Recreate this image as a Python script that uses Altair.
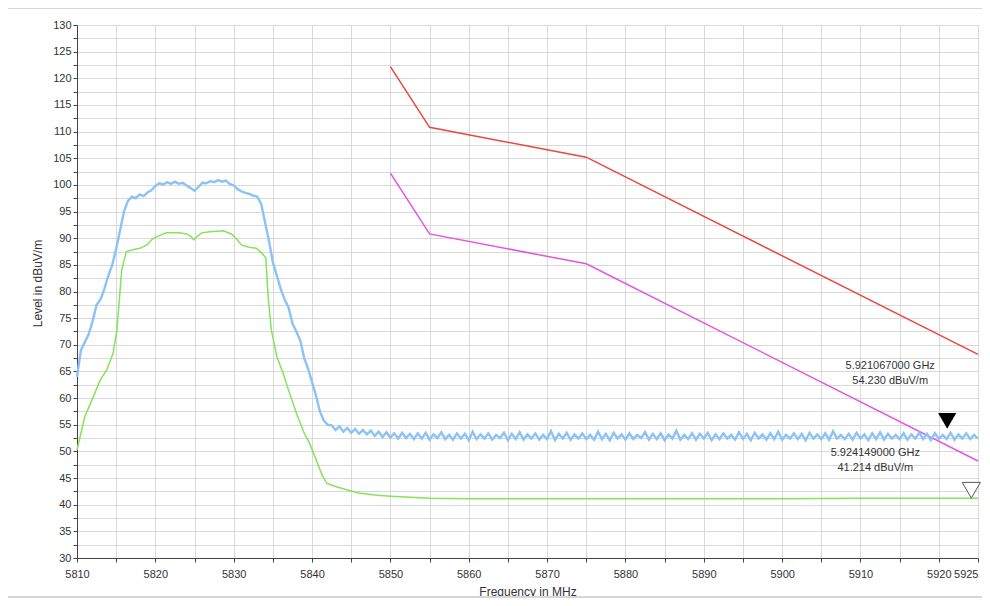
import altair as alt
import pandas as pd

# ---------------- data ----------------
# measured trace (light blue), uniform sweep starting at 5810 MHz, 0.5 MHz step
blue_start = 5810.0
blue_step = 0.5
blue_level = [
    64.0, 69.0, 70.5, 72.0, 74.5, 77.5, 78.5, 80.5, 83.0, 85.0,
    88.0, 91.5, 95.0, 97.0, 97.8, 97.5, 98.2, 97.9, 98.6, 99.0,
    99.8, 100.3, 100.1, 100.5, 100.2, 100.6, 100.2, 100.4, 99.9, 99.4,
    98.9, 99.6, 100.4, 100.3, 100.7, 100.5, 100.9, 100.6, 100.8, 100.2,
    99.9, 99.2, 98.8, 98.5, 98.3, 98.0, 97.8, 96.5, 93.0, 89.5,
    85.5, 83.0, 80.5, 78.5, 77.0, 74.0, 72.5, 70.8, 67.5, 65.5,
    63.0, 60.5, 57.5, 55.8, 55.0,
    54.9, 54.0, 54.7, 53.7, 54.4, 53.5, 54.2, 53.3, 54.0, 53.2,
    53.9, 52.9, 53.7, 52.7, 53.6, 52.6, 53.4, 52.4, 53.5, 52.5,
    53.3, 52.3, 53.4, 52.4, 53.5, 52.2, 53.2, 52.5, 53.6, 52.3,
    53.1, 52.2, 53.4, 52.4, 53.3, 52.1, 53.7, 52.3, 53.2, 52.4,
    53.4, 52.2, 53.1, 52.5, 53.5, 52.1, 53.3, 52.3, 53.6, 52.2,
    53.2, 52.4, 53.4, 52.2, 53.1, 52.3, 53.8, 52.1, 53.3, 52.4,
    53.5, 52.2, 53.2, 52.4, 53.4, 52.3, 53.1, 52.2, 53.7, 52.3,
    53.3, 52.1, 53.5, 52.4, 53.2, 52.2, 53.4, 52.3, 53.1, 52.5,
    53.6, 52.2, 53.3, 52.3, 53.4, 52.1, 53.2, 52.4, 53.9, 52.2,
    53.1, 52.3, 53.4, 52.2, 53.3, 52.4, 53.5, 52.1, 53.2, 52.3,
    53.4, 52.4, 53.1, 52.2, 53.6, 52.3, 53.3, 52.1, 53.5, 52.4,
    53.2, 52.2, 53.4, 52.3, 53.7, 52.2, 53.1, 52.4, 53.4, 52.3,
    53.3, 52.1, 53.5, 52.4, 53.2, 52.3, 53.4, 52.2, 53.8, 52.4,
    53.1, 52.3, 53.3, 52.2, 53.5, 52.4, 53.2, 52.1, 53.4, 52.3,
    53.6, 52.2, 53.3, 52.4, 53.1, 52.3, 53.4, 52.2, 53.2, 52.4,
    53.5, 52.3, 53.3, 52.1, 53.4, 52.4, 53.1, 52.3,
    53.5, 52.2, 53.2, 52.4, 53.4, 52.3, 53.1, 52.4,
]
blue_freq = [blue_start + blue_step * i for i in range(len(blue_level))]

# smoothed trace (green)
green_freq = [5810, 5810.4, 5811, 5812, 5813, 5813.8, 5814.6, 5815.1, 5815.7, 5816.3,
              5817, 5818, 5818.9, 5819.6, 5820.2, 5821.4, 5823, 5824, 5824.5, 5824.9,
              5825.4, 5825.9, 5827, 5828.7, 5829.7, 5830.4, 5831, 5832, 5832.9, 5833.6,
              5834.1, 5834.4, 5834.8, 5835.5, 5836.3, 5837, 5838, 5839, 5839.7, 5840.5,
              5841.3, 5841.9, 5843, 5844.4, 5846, 5848, 5850, 5855, 5860, 5870,
              5880, 5890, 5900, 5910, 5920, 5925]
green_level = [50.3, 52.8, 56.5, 60.0, 63.5, 65.3, 68.4, 72.8, 84.0, 87.5,
               87.8, 88.1, 88.7, 89.8, 90.3, 91.0, 91.0, 90.8, 90.4, 89.7,
               90.4, 91.0, 91.2, 91.4, 90.8, 89.8, 88.7, 88.3, 88.1, 87.2,
               86.3, 79.0, 72.8, 67.8, 64.7, 61.5, 57.2, 53.4, 51.5, 48.5,
               45.5, 44.0, 43.4, 42.8, 42.2, 41.8, 41.6, 41.2, 41.1, 41.1,
               41.1, 41.1, 41.1, 41.2, 41.2, 41.2]

# limit lines
limit_freq = [5850, 5855, 5875, 5925]
peak_limit = [122.2, 110.8, 105.2, 68.2]
avg_limit = [102.2, 90.8, 85.2, 48.2]

# markers
marker_freq = [5921.067, 5924.149]
marker_level = [54.230, 41.214]
marker_ghz = ["5.921067000 GHz", "5.924149000 GHz"]
marker_val = ["54.230 dBuV/m", "41.214 dBuV/m"]

# axis ticks
y_ticks = [30 + 2.5 * i for i in range(41)]
x_ticks = [5810 + 5 * i for i in range(24)]

# ---------------- chart ----------------
FONT = "Liberation Sans"
W, H = 901, 533

xscale = alt.Scale(domain=[5810, 5925], nice=False, zero=False)
yscale = alt.Scale(domain=[30, 130], nice=False, zero=False)

xaxis = alt.Axis(
    values=x_ticks, format="d", grid=True, gridColor="#d9d9d9", gridWidth=1,
    labelExpr="(datum.value % 10 == 0 || datum.value == 5925) ? datum.label : ''",
    labelAlign={"condition": {"test": "datum.value == 5925", "value": "right"}, "value": "center"},
    labelOverlap=False, labelFlush=False, labelPadding=6,
    title="Frequency in MHz", titleX=450.5, titleY=37, titleBaseline="alphabetic",
    titleAnchor="middle", titleAlign="center",
)
yaxis = alt.Axis(
    values=y_ticks, grid=True, gridColor="#d9d9d9", gridWidth=1,
    labelExpr="datum.value % 5 == 0 ? datum.label : ''",
    labelOverlap=False, labelPadding=2,
    title="Level in dBuV/m", titleX=-40, titleY=258, titleAngle=-90,
    titleAlign="center", titleBaseline="middle",
)

blue_df = pd.DataFrame({"f": blue_freq, "v": blue_level})
green_df = pd.DataFrame({"f": green_freq, "v": green_level})
red_df = pd.DataFrame({"f": limit_freq, "v": peak_limit})
mag_df = pd.DataFrame({"f": limit_freq, "v": avg_limit})
m1_df = pd.DataFrame({"f": marker_freq[:1], "v": marker_level[:1],
                      "a": marker_ghz[:1], "b": marker_val[:1]})
m2_df = pd.DataFrame({"f": marker_freq[1:], "v": marker_level[1:],
                      "a": marker_ghz[1:], "b": marker_val[1:]})

X = alt.X("f:Q", scale=xscale, axis=xaxis)
Y = alt.Y("v:Q", scale=yscale, axis=yaxis)

frame = alt.Chart(pd.DataFrame({"k": [0]})).mark_rect(
    fillOpacity=0, stroke="#d6d6d6", strokeWidth=2, clip=False
).encode(x=alt.value(-70), x2=alt.value(940), y=alt.value(-17), y2=alt.value(572))

blue = alt.Chart(blue_df).mark_line(color="#8cc2f6", strokeWidth=2.4, interpolate="linear").encode(x=X, y=Y)
green = alt.Chart(green_df).mark_line(color="#86e35a", strokeWidth=1.5).encode(x=X, y=Y)
red = alt.Chart(red_df).mark_line(color="#e8493f", strokeWidth=1.5).encode(x=X, y=Y)
mag = alt.Chart(mag_df).mark_line(color="#e455e2", strokeWidth=1.5).encode(x=X, y=Y)

tri1 = alt.Chart(m1_df).mark_point(
    shape="triangle-down", filled=True, color="#000000", size=330, yOffset=-8, opacity=1
).encode(x=X, y=Y)
tri2 = alt.Chart(m2_df).mark_point(
    shape="triangle-down", filled=True, fill="#ffffff", stroke="#555555", strokeWidth=1,
    size=330, yOffset=-8, opacity=1, clip=False
).encode(x=X, y=Y)

t1a = alt.Chart(m1_df).mark_text(font=FONT, fontSize=11, color="#333333", dx=-57, dy=-63).encode(x=X, y=Y, text="a:N")
t1b = alt.Chart(m1_df).mark_text(font=FONT, fontSize=11, color="#333333", dx=-57, dy=-48).encode(x=X, y=Y, text="b:N")
t2a = alt.Chart(m2_df).mark_text(font=FONT, fontSize=11, color="#333333", dx=-96, dy=-45).encode(x=X, y=Y, text="a:N")
t2b = alt.Chart(m2_df).mark_text(font=FONT, fontSize=11, color="#333333", dx=-96, dy=-30).encode(x=X, y=Y, text="b:N")

chart = alt.layer(
    frame, red, mag, green, blue, tri1, tri2, t1a, t1b, t2a, t2b
).properties(
    width=W, height=H,
    autosize=alt.AutoSizeParams(type="none"),
    padding={"left": 69, "top": 17, "right": 4, "bottom": 40},
    background="#ffffff",
).configure_view(
    strokeWidth=0
).configure_axis(
    labelFont=FONT, labelFontSize=11, labelColor="#333333",
    titleFont=FONT, titleFontSize=12, titleFontWeight="normal", titleColor="#333333",
    domainColor="#444444", domainWidth=1, tickColor="#444444", tickSize=4, tickWidth=1,
)

chart.save("out.html", embed_options={"renderer": "svg", "actions": False})
